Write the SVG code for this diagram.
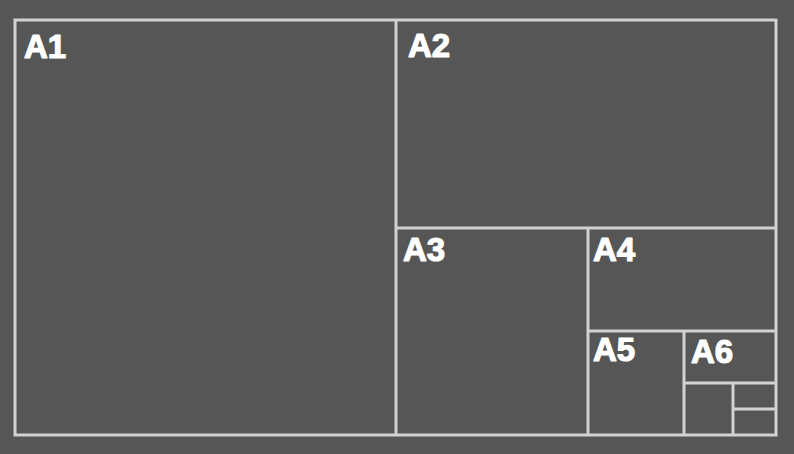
<svg xmlns="http://www.w3.org/2000/svg" width="794" height="454" viewBox="0 0 794 454">
<style>
.ln{stroke:#d2d2d2;stroke-width:3;fill:none}
.lb{font-family:"Liberation Sans",Arial,sans-serif;font-weight:bold;font-size:33px;fill:#ffffff;stroke:#ffffff;stroke-width:1.2;stroke-linejoin:round}
</style>
<rect x="0" y="0" width="794" height="454" fill="#565656"/>
<g id="sheet">
<rect class="ln" x="15" y="20" width="761" height="415"/>
<line class="ln" x1="396" y1="20" x2="396" y2="435"/>
<line class="ln" x1="396" y1="228" x2="776" y2="228"/>
<line class="ln" x1="588" y1="228" x2="588" y2="435"/>
<line class="ln" x1="588" y1="331" x2="776" y2="331"/>
<line class="ln" x1="684" y1="331" x2="684" y2="435"/>
<line class="ln" x1="684" y1="383" x2="776" y2="383"/>
<line class="ln" x1="733" y1="383" x2="733" y2="435"/>
<line class="ln" x1="733" y1="409" x2="776" y2="409"/>
</g>
<g id="A1"><text class="lb" x="24" y="58">A1</text></g>
<g id="A2"><text class="lb" x="408" y="57">A2</text></g>
<g id="A3"><text class="lb" x="403" y="261">A3</text></g>
<g id="A4"><text class="lb" x="593" y="261">A4</text></g>
<g id="A5"><text class="lb" x="593" y="361">A5</text></g>
<g id="A6"><text class="lb" x="691" y="363">A6</text></g>
</svg>
